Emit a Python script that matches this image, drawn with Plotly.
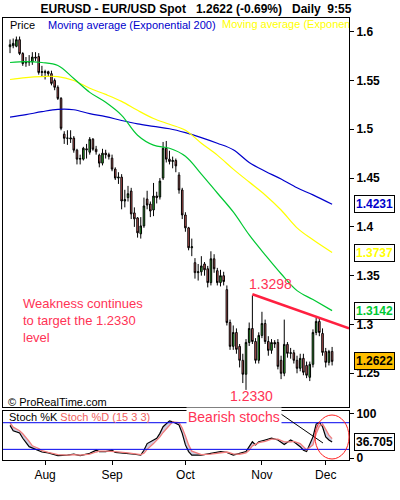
import plotly.graph_objects as go

# EUR/USD daily candles, mid-July to early December (index = trading day)
open_ = [
    1.5846, 1.5856, 1.5850, 1.5918, 1.5776, 1.5680, 1.5694, 1.5690, 1.5740, 1.5745,
    1.5582, 1.5580, 1.5590, 1.5570, 1.5500, 1.5430, 1.5316, 1.4950, 1.4908, 1.4900,
    1.4910, 1.4786, 1.4694, 1.4694, 1.4800, 1.4765, 1.4898, 1.4796, 1.4735, 1.4653,
    1.4755, 1.4740, 1.4704, 1.4592, 1.4500, 1.4510, 1.4265, 1.4300, 1.4367, 1.4143,
    1.4092, 1.3929, 1.4010, 1.4285, 1.4234, 1.4173, 1.4316, 1.4306, 1.4500, 1.4806,
    1.4694, 1.4670, 1.4680, 1.4531, 1.4378, 1.4122, 1.3990, 1.3786, 1.3633, 1.3531,
    1.3540, 1.3620, 1.3571, 1.3429, 1.3673, 1.3551, 1.3429, 1.3500, 1.3357, 1.3020,
    1.2776, 1.2918, 1.2776, 1.2633, 1.2490, 1.2816, 1.2959, 1.2826, 1.2633, 1.2888,
    1.3010, 1.2826, 1.2735, 1.2816, 1.2816, 1.2633, 1.2500, 1.2796, 1.2704, 1.2710,
    1.2633, 1.2551, 1.2653, 1.2580, 1.2459, 1.2592, 1.2918, 1.3031, 1.2908, 1.2724,
    1.2612, 1.2724,
]
high = [
    1.5920, 1.5930, 1.5950, 1.5950, 1.5790, 1.5740, 1.5760, 1.5790, 1.5790, 1.5780,
    1.5650, 1.5610, 1.5600, 1.5600, 1.5520, 1.5450, 1.5330, 1.4980, 1.4990, 1.4990,
    1.4930, 1.4800, 1.4740, 1.4820, 1.4850, 1.4920, 1.4910, 1.4830, 1.4750, 1.4800,
    1.4790, 1.4760, 1.4740, 1.4610, 1.4560, 1.4540, 1.4380, 1.4420, 1.4400, 1.4200,
    1.4100, 1.4100, 1.4300, 1.4370, 1.4260, 1.4450, 1.4360, 1.4500, 1.4870, 1.4880,
    1.4780, 1.4720, 1.4700, 1.4560, 1.4400, 1.4150, 1.4000, 1.3880, 1.3680, 1.3620,
    1.3700, 1.3640, 1.3600, 1.3750, 1.3720, 1.3580, 1.3560, 1.3540, 1.3400, 1.3050,
    1.2990, 1.2960, 1.2800, 1.2700, 1.2850, 1.3020, 1.3298, 1.2860, 1.2920, 1.3130,
    1.3050, 1.2880, 1.2850, 1.2840, 1.2850, 1.2680, 1.3050, 1.2820, 1.2760, 1.2740,
    1.2680, 1.2700, 1.2700, 1.2620, 1.2620, 1.2950, 1.3070, 1.3060, 1.2960, 1.2760,
    1.2740, 1.2770,
]
low = [
    1.5780, 1.5830, 1.5840, 1.5760, 1.5650, 1.5640, 1.5650, 1.5660, 1.5700, 1.5560,
    1.5540, 1.5510, 1.5540, 1.5450, 1.5400, 1.5300, 1.4990, 1.4850, 1.4840, 1.4860,
    1.4760, 1.4640, 1.4640, 1.4680, 1.4700, 1.4740, 1.4780, 1.4740, 1.4610, 1.4630,
    1.4700, 1.4690, 1.4570, 1.4480, 1.4440, 1.4180, 1.4200, 1.4260, 1.4080, 1.4000,
    1.3890, 1.3880, 1.3990, 1.4180, 1.4100, 1.4110, 1.4240, 1.4280, 1.4480, 1.4660,
    1.4640, 1.4600, 1.4560, 1.4340, 1.4080, 1.3950, 1.3760, 1.3700, 1.3470, 1.3450,
    1.3500, 1.3500, 1.3380, 1.3400, 1.3530, 1.3400, 1.3390, 1.3400, 1.2990, 1.2740,
    1.2740, 1.2700, 1.2560, 1.2400, 1.2330, 1.2780, 1.2800, 1.2600, 1.2600, 1.2860,
    1.2800, 1.2680, 1.2700, 1.2760, 1.2540, 1.2440, 1.2470, 1.2660, 1.2650, 1.2600,
    1.2500, 1.2520, 1.2480, 1.2450, 1.2420, 1.2560, 1.2890, 1.2880, 1.2680, 1.2560,
    1.2580, 1.2580,
]
close = [
    1.5866, 1.5880, 1.5918, 1.5776, 1.5673, 1.5694, 1.5690, 1.5740, 1.5730, 1.5582,
    1.5590, 1.5590, 1.5570, 1.5470, 1.5430, 1.5316, 1.5010, 1.4908, 1.4910, 1.4910,
    1.4786, 1.4694, 1.4700, 1.4806, 1.4790, 1.4898, 1.4796, 1.4770, 1.4653, 1.4755,
    1.4740, 1.4720, 1.4592, 1.4500, 1.4510, 1.4265, 1.4280, 1.4340, 1.4133, 1.4082,
    1.3939, 1.4010, 1.4214, 1.4224, 1.4163, 1.4316, 1.4300, 1.4469, 1.4806, 1.4694,
    1.4670, 1.4680, 1.4625, 1.4378, 1.4122, 1.3990, 1.3786, 1.3796, 1.3531, 1.3540,
    1.3600, 1.3560, 1.3429, 1.3673, 1.3571, 1.3429, 1.3500, 1.3440, 1.3020, 1.2776,
    1.2918, 1.2745, 1.2633, 1.2490, 1.2816, 1.2959, 1.2826, 1.2633, 1.2888, 1.3010,
    1.2826, 1.2735, 1.2816, 1.2800, 1.2571, 1.2500, 1.2796, 1.2704, 1.2710, 1.2633,
    1.2551, 1.2653, 1.2510, 1.2480, 1.2592, 1.2918, 1.3031, 1.2918, 1.2714, 1.2612,
    1.2724, 1.2622,
]
days = list(range(len(close)))

month_pos = [11, 32, 55, 79, 99]
month_labels = ["Aug", "Sep", "Oct", "Nov", "Dec"]

# moving averages, read every 5 sessions
ma_x = [0, 5, 10, 15, 20, 25, 30, 35, 40, 45, 50, 55, 60, 65, 70, 75, 80, 85, 90, 95, 101]
ema_200 = [1.5125, 1.5150, 1.5180, 1.5204, 1.5200, 1.5160, 1.5130, 1.5090, 1.5055, 1.5030,
           1.5005, 1.4965, 1.4915, 1.4857, 1.4790, 1.4660, 1.4570, 1.4490, 1.4400, 1.4328, 1.4231]
ema_100 = [1.5510, 1.5530, 1.5540, 1.5540, 1.5500, 1.5420, 1.5357, 1.5286, 1.5194, 1.5110,
           1.5051, 1.4990, 1.4857, 1.4735, 1.4592, 1.4459, 1.4327, 1.4173, 1.3990, 1.3867, 1.3737]
ema_50 = [1.5684, 1.5694, 1.5684, 1.5653, 1.5520, 1.5378, 1.5276, 1.5143, 1.4939, 1.4837,
          1.4806, 1.4724, 1.4541, 1.4347, 1.4153, 1.3918, 1.3714, 1.3520, 1.3347, 1.3255, 1.3142]

# resistance line from the 1.3298 high
trend_x = [76, 106.3]
trend_y = [1.3310, 1.2960]

# stochastic (15 3 3)
stoch_x = [0, 1, 3, 4, 6, 7, 9, 10, 12, 15, 18, 20, 22, 25, 27, 28, 30, 32, 33, 37,
           39, 41, 42, 43, 45, 46, 47, 48, 50, 51, 53, 54, 55, 56, 57, 60, 63, 66, 68, 70,
           72, 74, 75, 76, 77, 78, 80, 82, 84, 86, 88, 89, 91, 92, 93, 95, 96, 97, 98, 99,
           100, 101]
stoch_k = [74, 62, 57, 45, 26, 23, 18, 14, 12, 6, 7, 9, 6, 11, 18, 15, 15, 18, 13, 11,
           9, 7, 18, 33, 42, 45, 56, 71, 84, 82, 75, 56, 30, 15, 7, 7, 11, 15, 13, 7,
           11, 15, 26, 37, 30, 37, 41, 45, 41, 31, 41, 37, 26, 18, 15, 48, 77, 81, 71, 48,
           41, 36.705]
stoch_d = [80, 70, 62, 55, 38, 28, 22, 17, 13, 8, 7, 8, 7, 9, 14, 16, 16, 16, 15, 12,
           10, 8, 11, 20, 33, 40, 48, 58, 75, 82, 80, 68, 50, 30, 16, 8, 9, 13, 14, 10,
           9, 12, 18, 28, 32, 35, 38, 43, 43, 37, 37, 38, 33, 25, 19, 30, 55, 72, 77, 65,
           52, 44]

RED = "#FF3355"
BLUE = "#0000CC"
YELLOW = "#FFFF00"
GREEN = "#00C832"
FONT = "Liberation Sans, Arial, sans-serif"

# plot area spans x 3..349 px and y 18..460 px of the 400x500 page
def px(x):
    return (x - 3) / 346


def py(y):
    return (460 - y) / 442


fig = go.Figure()

fig.add_trace(go.Scatter(x=ma_x, y=ema_200, mode="lines", line=dict(color=BLUE, width=1.2, shape="spline")))
fig.add_trace(go.Scatter(x=ma_x, y=ema_100, mode="lines", line=dict(color=YELLOW, width=1.2, shape="spline")))
fig.add_trace(go.Scatter(x=ma_x, y=ema_50, mode="lines", line=dict(color=GREEN, width=1.2, shape="spline")))

fig.add_trace(go.Candlestick(
    x=days, open=open_, high=high, low=low, close=close,
    increasing=dict(line=dict(color="black", width=1), fillcolor="#2EBD2E"),
    decreasing=dict(line=dict(color="black", width=1), fillcolor="#DD6565"),
    whiskerwidth=0,
))

fig.add_trace(go.Scatter(x=trend_x, y=trend_y, mode="lines", line=dict(color="#FF2040", width=2.5)))

# yellow legend entry is cut by the right edge of the panel
fig.add_trace(go.Scatter(
    x=[66.5], y=[1.6069], mode="text", text=["Moving average (Exponent"],
    textposition="middle right", cliponaxis=True,
    textfont=dict(color=YELLOW, size=11, family=FONT),
))

fig.add_trace(go.Scatter(x=stoch_x, y=stoch_k, mode="lines", xaxis="x2", yaxis="y2",
                         line=dict(color="black", width=1.2)))
fig.add_trace(go.Scatter(x=stoch_x, y=stoch_d, mode="lines", xaxis="x2", yaxis="y2",
                         line=dict(color="#F07C7C", width=1.3),
                         fill="tonexty", fillcolor="rgba(185,185,215,0.7)"))

axis_common = dict(showline=True, mirror=True, linecolor="black", linewidth=1,
                   showgrid=False, zeroline=False)

gap = "\u00a0" * 3
fig.update_layout(
    width=400, height=500,
    margin=dict(l=3, r=51, t=18, b=40),
    paper_bgcolor="white", plot_bgcolor="white",
    showlegend=False,
    font=dict(family=FONT, size=11, color="black"),
    title=dict(
        text=f"EURUSD - EUR/USD Spot{gap}1.2622 (-0.69%){gap}Daily\u00a0 9:55",
        x=0.49, xanchor="center", y=0.982, yanchor="middle",
        font=dict(size=12, weight="bold", color="black", family=FONT),
    ),
    xaxis=dict(domain=[0, 1], anchor="y", range=[-2.2, 106.3], showticklabels=False,
               ticks="", rangeslider=dict(visible=False), **axis_common),
    yaxis=dict(domain=[0.12, 1], anchor="x", side="right", range=[1.2155, 1.614],
               tick0=1.25, dtick=0.05, ticks="outside", ticklen=4, tickcolor="black",
               tickfont=dict(size=12, weight="bold"), **axis_common),
    xaxis2=dict(domain=[0, 1], anchor="y2", matches="x", tickvals=month_pos,
                ticktext=month_labels, ticks="outside", ticklen=4, tickcolor="black",
                tickfont=dict(size=12), **axis_common),
    yaxis2=dict(domain=[0, 0.1115], anchor="x2", side="right", range=[-4, 107],
                tickvals=[0, 100], ticktext=["0", "100"], ticks="outside", ticklen=4,
                tickcolor="black", tickfont=dict(size=12, weight="bold"), **axis_common),
)

# overbought / oversold bands
for level in (20, 80):
    fig.add_shape(type="line", xref="paper", x0=0, x1=1, yref="y2", y0=level, y1=level,
                  line=dict(color="#0000EE", width=1))

# "Bearish stochs" pointer and circle
fig.add_shape(type="line", xref="paper", yref="paper", x0=px(281), y0=py(414),
              x1=px(323), y1=py(443), line=dict(color="black", width=1))
fig.add_shape(type="circle", xref="paper", yref="paper", x0=px(315), y0=py(459),
              x1=px(349), y1=py(415), line=dict(color="#FF2020", width=1))

annotations = [
    dict(x=px(8), y=py(25), text="Price", font=dict(size=11, color="black")),
    dict(x=px(46), y=py(25), text="Moving average (Exponential 200)", font=dict(size=11, color=BLUE)),
    dict(x=px(6), y=py(402), text="\u00a9 ProRealTime.com", font=dict(size=11, color="black")),
    dict(x=px(21), y=py(320), text="Weakness continues<br>to target the 1.2330<br>level",
         font=dict(size=13, color=RED), align="left"),
    dict(x=px(247), y=py(284), text="1.3298", font=dict(size=14, color=RED)),
    dict(x=px(228), y=py(396), text="1.2330", font=dict(size=14, color=RED)),
    dict(x=px(7), y=py(417), text="Stoch %K <span style='color:#F06060'>Stoch %D (15 3 3)</span>",
         font=dict(size=11, color="black")),
    dict(x=px(186), y=py(417), text="Bearish stochs", font=dict(size=14, color=RED),
         bgcolor="white"),
]
for a in annotations:
    fig.add_annotation(xref="paper", yref="paper", xanchor="left", yanchor="middle",
                       showarrow=False, **a)

# boxed last values on the price scale
boxes = [
    (ema_200[-1], "y", BLUE, "white"),
    (ema_100[-1], "y", YELLOW, "white"),
    (ema_50[-1], "y", GREEN, "white"),
    (close[-1], "y", "black", "#FFBF00"),
    (stoch_k[-1], "y2", "black", "white"),
]
for val, yref, color, bg in boxes:
    label = f"{val:.4f}" if yref == "y" else f"{val:.3f}"
    fig.add_annotation(xref="paper", x=px(354), yref=yref, y=val, xanchor="left",
                       yanchor="middle", showarrow=False, text=label,
                       font=dict(size=12, weight="bold", color=color),
                       bgcolor=bg, bordercolor="black", borderwidth=1, borderpad=1)

# page body margin would push the 400x500 figure off the window
fig.write_html("out.html", config={"displayModeBar": False},
               post_script="document.body.style.margin='0';")
